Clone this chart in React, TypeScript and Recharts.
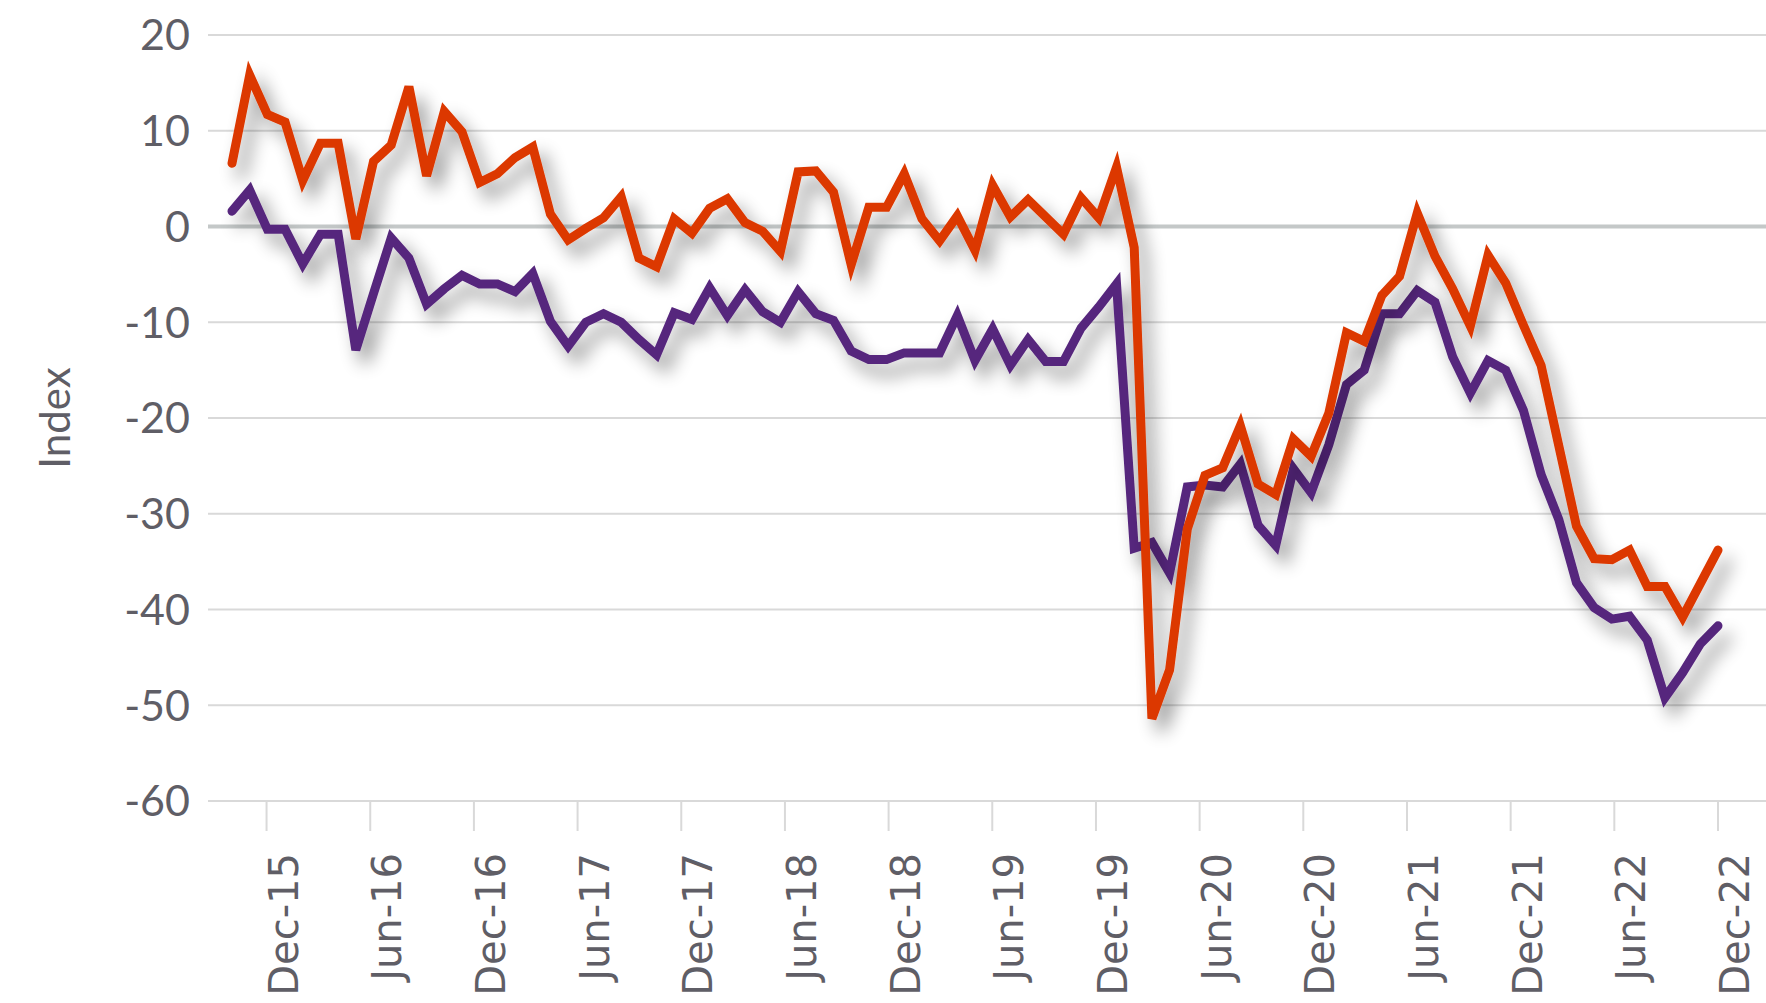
import { LineChart, Line, XAxis, YAxis, CartesianGrid, ReferenceLine } from 'recharts'

// 85 monthly survey readings, Oct-15 .. Dec-22
const orangeIndex = [
  6.6, 15.8, 11.7, 10.9, 4.8, 8.7, 8.7, -1.3, 6.8, 8.5,
  14.6, 5.3, 12, 9.9, 4.6, 5.5, 7.2, 8.3, 1.3, -1.4,
  -0.2, 0.9, 3.1, -3.3, -4.2, 0.8, -0.7, 1.9, 2.9, 0.4,
  -0.5, -2.6, 5.7, 5.8, 3.6, -4, 2, 2, 5.5, 0.8,
  -1.5, 1.1, -2.5, 4.3, 1, 2.8, 1, -0.8, 3, 0.9,
  6.2, -2.2, -51.4, -46.3, -31.6, -26, -25.2, -20.8, -26.9, -28,
  -22.2, -24, -19.5, -11.1, -12, -7.2, -5.2, 1.4, -3.1, -6.5,
  -10.4, -3, -5.9, -10.3, -14.5, -22.9, -31.3, -34.7, -34.8, -33.8,
  -37.6, -37.6, -40.8, -37.3, -33.8,
]
const purpleIndex = [
  1.6, 3.8, -0.3, -0.3, -3.9, -0.8, -0.8, -12.9, -7, -1.2,
  -3.3, -8.1, -6.5, -5.1, -6, -6, -6.8, -4.9, -9.9, -12.5,
  -10, -9.1, -10, -11.8, -13.4, -9, -9.7, -6.4, -9.3, -6.6,
  -8.9, -10, -6.8, -9.1, -9.8, -13, -13.9, -13.9, -13.2, -13.2,
  -13.2, -9.3, -14, -10.7, -14.5, -11.8, -14.1, -14.1, -10.6, -8.4,
  -6, -33.6, -33, -36.2, -27.2, -27, -27.2, -24.8, -31.2, -33.3,
  -25.3, -27.8, -22.8, -16.5, -15, -9.1, -9.1, -6.7, -7.9, -13.6,
  -17.4, -14, -15, -19.2, -25.9, -30.6, -37.2, -39.8, -41, -40.7,
  -43.2, -49.2, -46.6, -43.6, -41.7,
]

// axis labels, at month offsets from Oct-15 (the readings span 86 months)
const tickMonths = [2, 8, 14, 20, 26, 32, 38, 44, 50, 56, 62, 68, 74, 80, 86]
const tickLabels = [
  'Dec-15', 'Jun-16', 'Dec-16', 'Jun-17', 'Dec-17', 'Jun-18', 'Dec-18', 'Jun-19',
  'Dec-19', 'Jun-20', 'Dec-20', 'Jun-21', 'Dec-21', 'Jun-22', 'Dec-22',
]
const yTicks = [-60, -50, -40, -30, -20, -10, 0, 10, 20]

const lastPeriod = orangeIndex.length - 1
const tickPeriods = tickMonths.map(m => (m * lastPeriod) / 86)
const rows = orangeIndex.map((v, i) => ({ period: i, orange: v, purple: purpleIndex[i] }))

const textGrey = '#5f5e66'
const gridGrey = '#d9d9d9'

function MonthTick(props: any) {
  const { x, y, index } = props
  const tx = x + 31
  return (
    <text
      x={tx}
      y={y}
      transform={`rotate(-90 ${tx} ${y})`}
      textAnchor="end"
      fontFamily="'DejaVu Sans'"
      fontSize={40}
      fill={textGrey}
    >
      {tickLabels[index]}
    </text>
  )
}

function IndexLabel(props: any) {
  const vb = props.viewBox
  const cx = 54
  const cy = vb ? vb.y + vb.height / 2 : 418
  return (
    <text
      x={cx}
      y={cy}
      transform={`rotate(-90 ${cx} ${cy})`}
      textAnchor="middle"
      dominantBaseline="central"
      fontFamily="Lato"
      fontSize={42}
      fill={textGrey}
    >
      Index
    </text>
  )
}

export default function App() {
  return (
    <div style={{ width: 1766, height: 1003, background: '#fff', position: 'relative' }}>
      <style>{'body{margin:0} .recharts-line-curve{filter:url(#lineShadow)}'}</style>
      <svg width={0} height={0} style={{ position: 'absolute' }}>
        <defs>
          <filter id="lineShadow" filterUnits="userSpaceOnUse" x="0" y="0" width="1766" height="1003">
            <feGaussianBlur in="SourceAlpha" stdDeviation="9" />
            <feOffset dx="9" dy="12" result="blur" />
            <feComponentTransfer>
              <feFuncA type="linear" slope="0.42" />
            </feComponentTransfer>
            <feMerge>
              <feMergeNode />
              <feMergeNode in="SourceGraphic" />
            </feMerge>
          </filter>
        </defs>
      </svg>
      <LineChart width={1766} height={1003} data={rows} margin={{ top: 35, right: 0, bottom: 0, left: 0 }}>
        <CartesianGrid vertical={false} stroke={gridGrey} strokeWidth={2} />
        <XAxis
          dataKey="period"
          type="number"
          domain={[0, lastPeriod]}
          ticks={tickPeriods}
          interval={0}
          padding={{ left: 24, right: 48 }}
          height={202}
          axisLine={false}
          tickLine={{ stroke: gridGrey, strokeWidth: 2 }}
          tickSize={30}
          tickMargin={22}
          tick={<MonthTick />}
        />
        <YAxis
          domain={[-60, 20]}
          ticks={yTicks}
          interval={0}
          width={208}
          axisLine={false}
          tickLine={false}
          tickSize={0}
          tickMargin={18}
          tick={{ fontFamily: 'Lato', fontSize: 43, fill: textGrey }}
          label={<IndexLabel />}
        />
        <ReferenceLine y={0} stroke="#c4c8c8" strokeWidth={4} />
        <Line
          type="linear"
          dataKey="purple"
          stroke="#57287d"
          strokeWidth={9}
          strokeLinecap="round"
          strokeLinejoin="miter"
          dot={false}
          activeDot={false}
          isAnimationActive={false}
        />
        <Line
          type="linear"
          dataKey="orange"
          stroke="#dc3900"
          strokeWidth={9}
          strokeLinecap="round"
          strokeLinejoin="miter"
          dot={false}
          activeDot={false}
          isAnimationActive={false}
        />
      </LineChart>
    </div>
  )
}
